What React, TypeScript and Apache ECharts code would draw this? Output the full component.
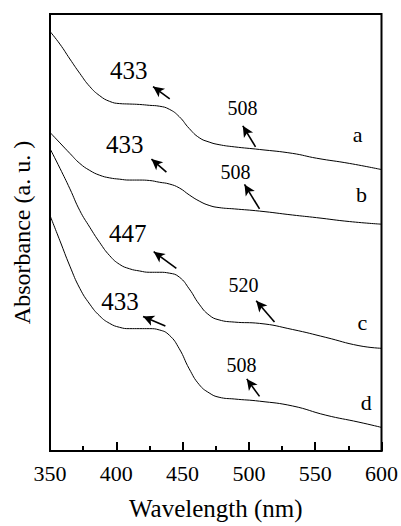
import React, { useEffect, useRef } from "react";
import * as echarts from "echarts";

const FONT = "Liberation Serif";

const waveAB = [350, 357.5, 365, 372.5, 380, 387.5, 395, 402.5, 410, 417.5, 425, 432.5, 440, 447.5, 455, 462.5, 470, 477.5, 489, 508, 533, 551, 576, 600];
const waveCD = [350, 357.5, 365, 372.5, 380, 387.5, 395, 402.5, 410, 417.5, 425, 432.5, 440, 447.5, 455, 462.5, 470, 477.5, 489, 508, 533, 558, 583, 600];

const absA = [9.6, 9.31, 8.97, 8.64, 8.34, 8.13, 8.0, 7.95, 7.94, 7.93, 7.91, 7.89, 7.82, 7.65, 7.38, 7.17, 7.07, 7.01, 6.96, 6.9, 6.81, 6.7, 6.58, 6.44];
const absB = [7.29, 7.05, 6.81, 6.58, 6.42, 6.31, 6.25, 6.22, 6.2, 6.2, 6.19, 6.15, 6.11, 6.02, 5.86, 5.72, 5.62, 5.57, 5.54, 5.49, 5.4, 5.34, 5.25, 5.19];
const absC = [6.92, 6.47, 6.0, 5.5, 5.12, 4.77, 4.47, 4.27, 4.17, 4.12, 4.09, 4.09, 4.07, 3.98, 3.71, 3.36, 3.11, 3.0, 2.95, 2.92, 2.78, 2.6, 2.41, 2.35];
const absD = [5.39, 4.81, 4.23, 3.72, 3.36, 3.09, 2.92, 2.83, 2.8, 2.8, 2.8, 2.77, 2.65, 2.34, 1.88, 1.52, 1.33, 1.23, 1.19, 1.14, 1.03, 0.82, 0.66, 0.54];

const seriesNames = ["a", "b", "c", "d"];
// curve-letter label positions [wavelength, absorbance]
const letterPos = [[582, 7.25], [585, 5.88], [585.5, 2.95], [588.5, 1.12]];

// peak annotation texts and positions
const peakLabels = [["433", "508"], ["433", "508"], ["447", "520"], ["433", "508"]];
const peakTextPos = [
  [[409.4, 8.7], [495.2, 7.86]],
  [[406.4, 7.01], [489.9, 6.38]],
  [[408.7, 4.97], [495.9, 3.81]],
  [[402.7, 3.43], [494.4, 1.96]],
];
// arrows: [tail, head]
const arrows = [
  [[[440.3, 8.06], [427.7, 8.34]], [[505, 6.96], [495.4, 7.44]]],
  [[[437.8, 6.38], [426.5, 6.68]], [[508, 5.54], [496.7, 6.1]]],
  [[[445.3, 4.18], [428.2, 4.56]], [[519.3, 2.95], [505.5, 3.44]]],
  [[[437, 2.86], [420.2, 3.08]], [[508, 1.25], [498.4, 1.65]]],
];

const waves = [waveAB, waveAB, waveCD, waveCD];
const abss = [absA, absB, absC, absD];

export default function App() {
  const ref = useRef<HTMLDivElement>(null);
  useEffect(() => {
    if (!ref.current) return;
    const chart = echarts.init(ref.current, undefined, { renderer: "svg" });
    const series: any[] = seriesNames.map((name, i) => ({
      name,
      type: "line",
      data: waves[i].map((w, k) => [w, abss[i][k]]),
      smooth: 0.5,
      showSymbol: false,
      symbol: "none",
      lineStyle: { color: "#000", width: 1 },
      markLine: {
        silent: true,
        symbol: ["none", "arrow"],
        symbolSize: [8, 11],
        label: { show: false },
        lineStyle: { color: "#000", width: 1.6, type: "solid" },
        data: arrows[i].map(([t, h]) => [{ coord: t }, { coord: h }]),
      },
      markPoint: {
        silent: true,
        symbol: "circle",
        symbolSize: 1,
        itemStyle: { color: "transparent" },
        data: [
          ...peakLabels[i].map((txt, j) => ({
            name: txt,
            coord: peakTextPos[i][j],
            label: {
              show: true,
              position: "inside",
              formatter: txt,
              color: "#000",
              fontFamily: FONT,
              fontSize: j === 0 ? 25 : 20,
            },
          })),
          {
            name,
            coord: letterPos[i],
            label: {
              show: true,
              position: "inside",
              formatter: name,
              color: "#000",
              fontFamily: FONT,
              fontSize: 22,
            },
          },
        ],
      },
    }));
    chart.setOption({
      animation: false,
      backgroundColor: "#fff",
      textStyle: { fontFamily: FONT },
      grid: { left: 50, top: 14, width: 332, height: 447, show: true, borderColor: "#000", borderWidth: 2 },
      xAxis: {
        type: "value",
        min: 350,
        max: 600,
        interval: 50,
        name: "Wavelength (nm)",
        nameLocation: "middle",
        nameGap: 45,
        nameTextStyle: { fontFamily: FONT, fontSize: 25, color: "#000" },
        axisLine: { show: true, lineStyle: { color: "#000", width: 2 } },
        axisTick: { show: true, inside: true, length: 9, lineStyle: { color: "#000", width: 2 } },
        minorTick: { show: true, splitNumber: 2, length: 5, lineStyle: { color: "#000", width: 2 } },
        axisLabel: { fontFamily: FONT, fontSize: 22, color: "#000", margin: 11 },
        splitLine: { show: false },
      },
      yAxis: {
        type: "value",
        min: 0,
        max: 10,
        name: "Absorbance (a. u. )",
        nameLocation: "middle",
        nameGap: 16,
        nameTextStyle: { fontFamily: FONT, fontSize: 24, color: "#000" },
        axisLine: { show: true, lineStyle: { color: "#000", width: 2 } },
        axisTick: { show: false },
        axisLabel: { show: false },
        splitLine: { show: false },
      },
      series,
    });
    return () => chart.dispose();
  }, []);
  return <div ref={ref} style={{ position: "fixed", left: 0, top: 0, width: 401, height: 526 }} />;
}
